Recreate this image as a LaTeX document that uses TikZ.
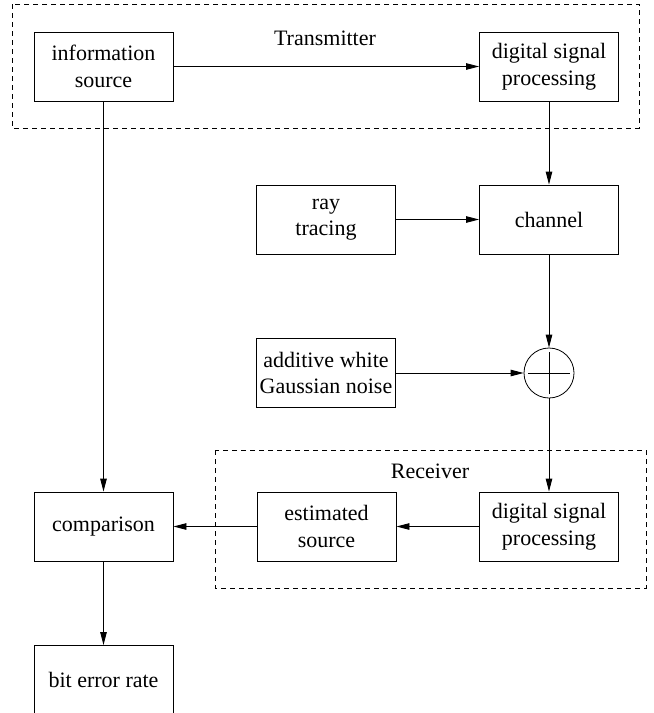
\documentclass[tikz,border=0pt]{standalone}
\usepackage{fontspec}
\setmainfont{Liberation Serif}
\usetikzlibrary{arrows.meta}
\begin{document}
\begin{tikzpicture}[x=1pt,y=-1pt,
  font=\fontsize{22}{26.5}\selectfont,
  block/.style={draw, line width=0.9pt, minimum width=139pt, minimum height=69pt, align=center, inner sep=0pt},
  sumnode/.style={draw, circle, line width=0.8pt, minimum size=50pt, inner sep=0pt,
    path picture={\draw[line width=0.8pt] ([xshift=-21pt]path picture bounding box.center) -- ([xshift=21pt]path picture bounding box.center);
                  \draw[line width=0.8pt] ([yshift=-21pt]path picture bounding box.center) -- ([yshift=21pt]path picture bounding box.center);}},
  flow/.style={line width=0.9pt, -{Triangle[length=13pt,width=6.5pt]}},
  group/.style={draw, line width=0.9pt, dash pattern=on 5pt off 4pt}]
\useasboundingbox (0,0) rectangle (654,713);

% dashed enclosures
\draw[group] (12,4) rectangle (639,128);
\node[anchor=base] (txlabel) at (325,45) {Transmitter};
\draw[group] (215,450) rectangle (646,588);
\node[anchor=base] (rxlabel) at (430,478) {Receiver};

% blocks
\node[block] (info) at (103.5,66.5) {information\\source};
\node[block] (dsptx) at (549,66.5) {digital signal\\processing};
\node[block] (ray) at (326,219.5) {ray\\tracing};
\node[block] (chan) at (549,219.5) {channel};
\node[sumnode] (add) at (549,373) {};
\node[block] (awgn) at (326,373) {additive white\\Gaussian noise};
\node[block] (dsprx) at (549,526.5) {digital signal\\processing};
\node[block] (est) at (326.5,526.5) {estimated\\source};
\node[block] (comp) at (103.5,526.5) {comparison};
\node[block] (ber) at (103.5,680) {bit error rate};

% connectors
\draw[flow] (info) -- (dsptx);
\draw[flow] (dsptx) -- (chan);
\draw[flow] (ray) -- (chan);
\draw[flow] (chan) -- (add);
\draw[flow] (awgn) -- (add);
\draw[flow] (add) -- (dsprx);
\draw[flow] (dsprx) -- (est);
\draw[flow] (est) -- (comp);
\draw[flow] (info) -- (comp);
\draw[flow] (comp) -- (ber);
\end{tikzpicture}
\end{document}
